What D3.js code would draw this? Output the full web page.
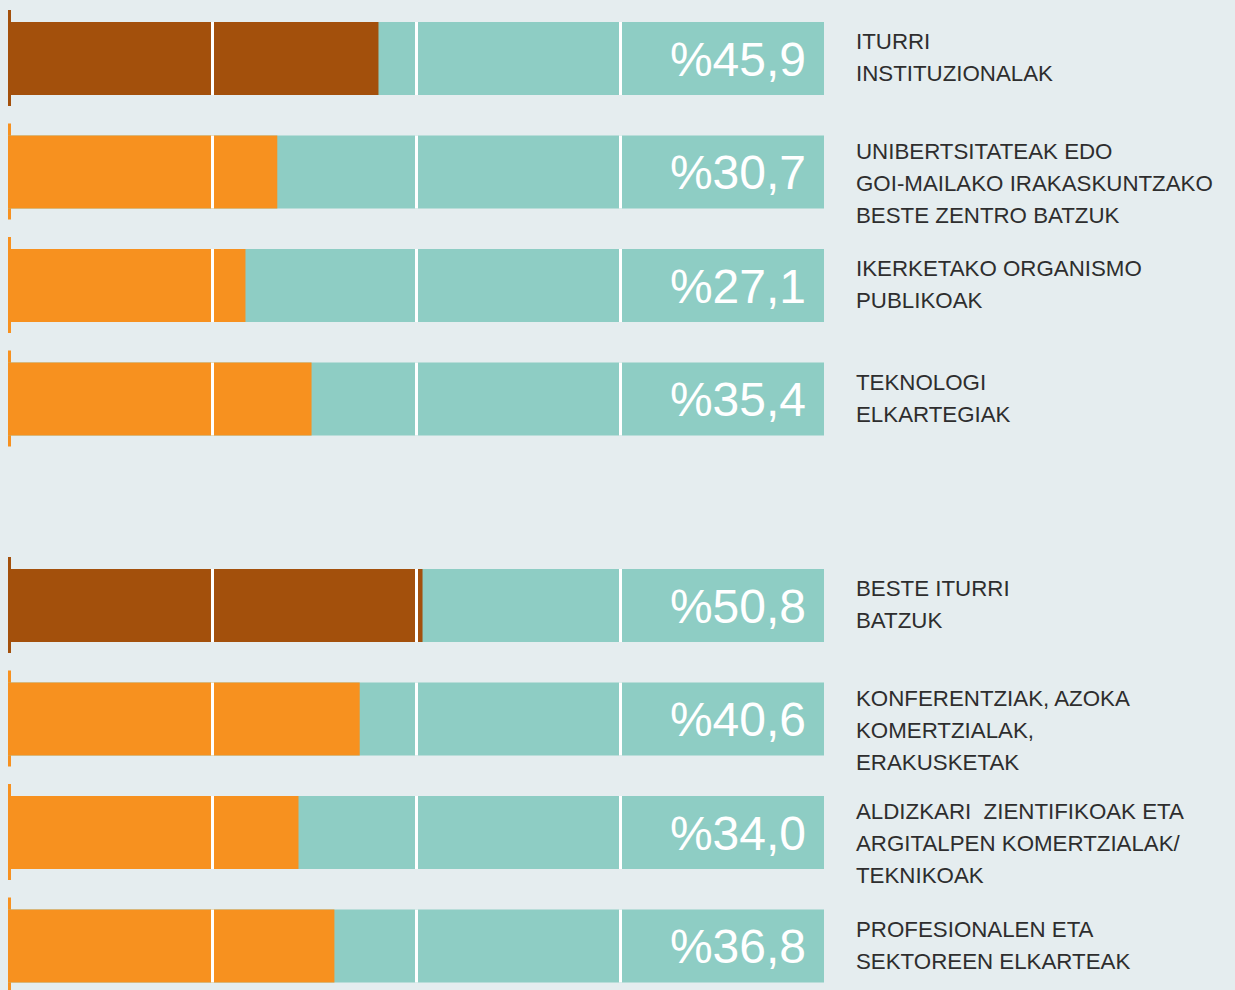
<!DOCTYPE html>
<html>
<head>
<meta charset="utf-8">
<script src="https://cdn.jsdelivr.net/npm/d3@7"></script>
<style>
    html, body { margin: 0; padding: 0; background: #e5edef; }
    svg { display: block; }
</style>
</head>
<body>
<svg id="chart"></svg>
<script>
// row labels (line breaks as in the original)
var labels = [
    ["ITURRI", "INSTITUZIONALAK"],
    ["UNIBERTSITATEAK EDO", "GOI-MAILAKO IRAKASKUNTZAKO", "BESTE ZENTRO BATZUK"],
    ["IKERKETAKO ORGANISMO", "PUBLIKOAK"],
    ["TEKNOLOGI", "ELKARTEGIAK"],
    ["BESTE ITURRI", "BATZUK"],
    ["KONFERENTZIAK, AZOKA", "KOMERTZIALAK,", "ERAKUSKETAK"],
    ["ALDIZKARI  ZIENTIFIKOAK ETA", "ARGITALPEN KOMERTZIALAK/", "TEKNIKOAK"],
    ["PROFESIONALEN ETA", "SEKTOREEN ELKARTEAK"]
];
// printed percentages
var values = [45.9, 30.7, 27.1, 35.4, 50.8, 40.6, 34.0, 36.8];
// length of the coloured part as drawn in the picture (doesn't always match the printed value)
var fillShare = [45.4, 33.0, 29.1, 37.2, 50.8, 43.1, 35.6, 40.0];
// group of each row (two blocks), first row of each block is highlighted
var groups = [0, 0, 0, 0, 1, 1, 1, 1];
var highlight = [true, false, false, false, true, false, false, false];
var gridTicks = [25, 50, 75];

var width = 1235, height = 990;
var barLeft = 8, barRight = 824, barH = 73;
var rowStep = 113.5, groupGap = 93, top0 = 22;

var colors = {
    bg: "#e5edef",
    track: "#8ecdc4",
    orange: "#f7911f",
    brown: "#a3500c",
    text: "#2e2e2e"
};

var svg = d3.select("#chart")
    .attr("width", width)
    .attr("height", height);

svg.append("rect")
    .attr("width", width)
    .attr("height", height)
    .attr("fill", colors.bg);

var x = d3.scaleLinear().domain([0, 100]).range([barLeft, barRight]);
var y = function(i) { return top0 + i * rowStep + groups[i] * groupGap; };

var locale = d3.formatLocale({decimal: ",", thousands: ".", grouping: [3], currency: ["", ""]});
var fmt = locale.format(".1f");

var rows = svg.selectAll("g.row")
    .data(values)
    .join("g")
    .attr("class", "row")
    .attr("transform", function(d, i) { return "translate(0," + y(i) + ")"; });

// small tick on the left edge
rows.append("rect")
    .attr("x", barLeft)
    .attr("y", -12)
    .attr("width", 3)
    .attr("height", barH + 23)
    .attr("fill", function(d, i) { return highlight[i] ? colors.brown : colors.orange; });

// full track
rows.append("rect")
    .attr("x", x(0))
    .attr("y", 0)
    .attr("width", x(100) - x(0))
    .attr("height", barH)
    .attr("fill", colors.track);

// coloured part
rows.append("rect")
    .attr("x", x(0))
    .attr("y", 0)
    .attr("width", function(d, i) { return x(fillShare[i]) - x(0); })
    .attr("height", barH)
    .attr("fill", function(d, i) { return highlight[i] ? colors.brown : colors.orange; });

// white grid lines at 25 / 50 / 75
rows.selectAll("line.grid")
    .data(gridTicks)
    .join("line")
    .attr("class", "grid")
    .attr("x1", function(t) { return x(t) + 0.5; })
    .attr("x2", function(t) { return x(t) + 0.5; })
    .attr("y1", 0)
    .attr("y2", barH)
    .attr("stroke", "#ffffff")
    .attr("stroke-width", 3);

// value inside the bar
rows.append("text")
    .attr("x", 806)
    .attr("y", barH / 2 + 17)
    .attr("text-anchor", "end")
    .attr("fill", "#ffffff")
    .style("font-family", "'Liberation Sans', Arial, sans-serif")
    .style("font-size", "48px")
    .text(function(d) { return "%" + fmt(d); });

// category label on the right
var lineH = 32;
rows.append("text")
    .attr("fill", colors.text)
    .style("font-family", "'Liberation Sans', Arial, sans-serif")
    .style("font-size", "22.3px")
    .each(function(d, i) {
        var lines = labels[i];
        var first = lines.length >= 3 ? 23 : 27;
        d3.select(this).selectAll("tspan")
            .data(lines)
            .join("tspan")
            .attr("x", 856)
            .attr("y", function(l, k) { return first + k * lineH; })
            .style("white-space", "pre")
            .text(function(l) { return l; });
    });
</script>
</body>
</html>
